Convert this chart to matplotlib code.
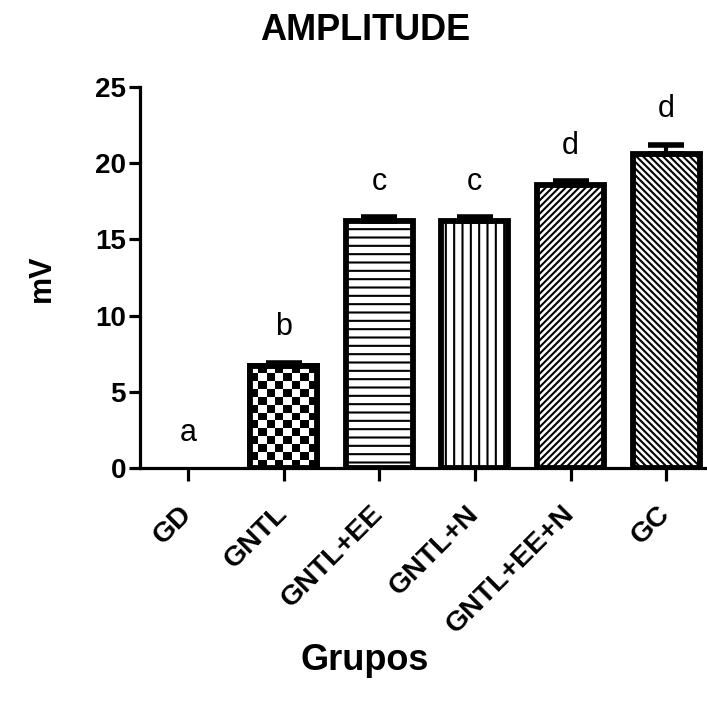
import matplotlib
matplotlib.use("Agg")
import matplotlib.pyplot as plt
import numpy as np

plt.rcParams['font.family'] = ['Liberation Sans', 'DejaVu Sans']
plt.rcParams['hatch.linewidth'] = 1.5

grupos = ['GD', 'GNTL', 'GNTL+EE', 'GNTL+N', 'GNTL+EE+N', 'GC']
media = [0.0, 6.7, 16.2, 16.2, 18.6, 20.6]
epm = [0.0, 0.2, 0.25, 0.25, 0.2, 0.6]
letras = ['a', 'b', 'c', 'c', 'd', 'd']
hatches = [None, 'checker', '--', '||', '/////', '\\\\\\\\\\']

fig = plt.figure(figsize=(7.07, 7.09), dpi=100)
ax = fig.add_axes([140/707, 241/709, 574/707, 381/709])

x = np.arange(len(grupos))
w = 0.7
for i in range(len(grupos)):
    if media[i] <= 0:
        continue
    h = hatches[i]
    bar = ax.bar(x[i], media[i], width=w, color='white', edgecolor='black',
                 linewidth=4.2, hatch=None if h == 'checker' else h, zorder=2)[0]
    if h == 'checker':
        ny = int(round(media[i] / 0.5))
        board = np.indices((ny, 8)).sum(axis=0) % 2
        im = ax.imshow(board, cmap='gray_r', interpolation='nearest', aspect='auto',
                       extent=(x[i] - w/2, x[i] + w/2, 0, media[i]), zorder=2.5)
        im.set_clip_path(bar)
        # contorno por cima do xadrez
        ax.bar(x[i], media[i], width=w, color='none', edgecolor='black',
               linewidth=4.2, zorder=3)

for i in range(len(grupos)):
    if media[i] <= 0:
        continue
    ax.errorbar(x[i], media[i], yerr=[[0], [epm[i]]], fmt='none', ecolor='black',
                elinewidth=3, capsize=13, capthick=4, zorder=4)

for i in range(len(grupos)):
    ax.text(x[i], media[i] + epm[i] + 1.8, letras[i], ha='center', va='baseline',
            fontsize=22)

ax.set_xlim(-0.5, len(grupos) - 0.5)
ax.set_ylim(0, 25)
ax.set_yticks([0, 5, 10, 15, 20, 25])
ax.set_xticks(x)
ax.set_xticklabels(grupos, rotation=45, ha='right', va='center',
                   rotation_mode='anchor', fontsize=20.5, fontweight='bold')
for lab in ax.get_yticklabels():
    lab.set_fontweight('bold')
    lab.set_fontsize(20)

ax.spines['top'].set_visible(False)
ax.spines['right'].set_visible(False)
ax.spines['left'].set_linewidth(2.3)
ax.spines['bottom'].set_linewidth(2.3)
ax.tick_params(axis='y', length=8, width=2.3, pad=2)
ax.tick_params(axis='x', length=9, width=2.3, pad=21)

fig.text(365/707, 1 - 30/709, 'AMPLITUDE', ha='center', va='center',
         fontsize=26, fontweight='bold')
fig.text(42/707, 1 - 278/709, 'mV', ha='center', va='center', rotation=90,
         fontsize=22, fontweight='bold')
fig.text(365/707, 1 - 660/709, 'Grupos', ha='center', va='center',
         fontsize=26, fontweight='bold')

fig.savefig('out.png', dpi=100)
